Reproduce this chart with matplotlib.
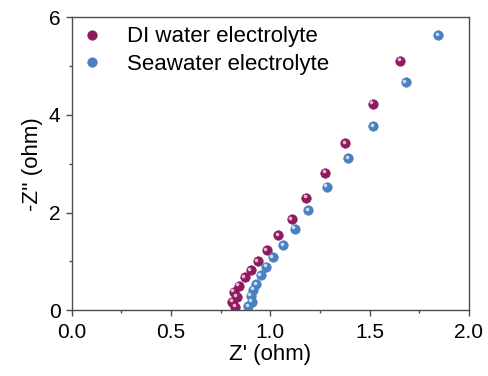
import numpy as np
import matplotlib
matplotlib.use("Agg")
from matplotlib import pyplot as plt
from matplotlib.ticker import MultipleLocator

# Nyquist data
di_x = [1.653, 1.516, 1.377, 1.276, 1.181, 1.109, 1.040, 0.983, 0.936, 0.901,
        0.872, 0.842, 0.817, 0.832, 0.809, 0.824]
di_y = [5.11, 4.23, 3.42, 2.81, 2.30, 1.86, 1.53, 1.23, 1.00, 0.82,
        0.67, 0.50, 0.375, 0.27, 0.17, 0.07]
sea_x = [1.846, 1.683, 1.518, 1.393, 1.284, 1.192, 1.124, 1.065, 1.013, 0.980,
         0.951, 0.928, 0.913, 0.901, 0.906, 0.889]
sea_y = [5.64, 4.67, 3.77, 3.11, 2.53, 2.05, 1.67, 1.33, 1.08, 0.89,
         0.71, 0.53, 0.41, 0.29, 0.17, 0.08]

plt.rcParams['font.family'] = ['Liberation Sans', 'DejaVu Sans']

fig = plt.figure(figsize=(4.88, 3.76), dpi=100)
ax = fig.add_axes([0.147, 0.1755, 0.814, 0.778])

def spheres(ax, x, y, color, light, label):
    # base ball plus a small highlight to mimic the shaded marker
    ax.plot(x, y, 'o', ms=7, color=color, mec=color, mew=0.3, label=label)
    ax.plot(x, y, 'o', ms=2.6, color=light, mec='none',
            transform=ax.transData + matplotlib.transforms.ScaledTranslation(
                -1.1 / 72, 1.1 / 72, fig.dpi_scale_trans))

spheres(ax, di_x, di_y, '#8e1a60', '#e8b8d4', 'DI water electrolyte')
spheres(ax, sea_x, sea_y, '#4a80bf', '#c8dcf2', 'Seawater electrolyte')

ax.set_xlim(0, 2.0)
ax.set_ylim(0, 6)
ax.xaxis.set_minor_locator(MultipleLocator(0.25))
ax.yaxis.set_major_locator(MultipleLocator(2))
ax.yaxis.set_minor_locator(MultipleLocator(1))
ax.set_xticks([0, 0.5, 1.0, 1.5, 2.0])
ax.set_xticklabels(['0.0', '0.5', '1.0', '1.5', '2.0'])

for s in ax.spines.values():
    s.set_color('#4d4d4d')
    s.set_linewidth(1.0)
ax.tick_params(which='major', direction='out', length=4, width=1, color='#4d4d4d',
               labelsize=15)
ax.tick_params(axis='x', which='major', pad=5)
ax.tick_params(axis='y', which='major', pad=4)
ax.tick_params(which='minor', direction='out', length=2.5, width=1, color='#4d4d4d')

ax.set_xlabel("Z' (ohm)", fontsize=16, labelpad=2)
ax.set_ylabel("-Z'' (ohm)", fontsize=16, labelpad=4)

h, l = ax.get_legend_handles_labels()
ax.legend(h, l, loc='upper left', frameon=False, fontsize=16, handletextpad=1.1,
          borderaxespad=0.0, labelspacing=0.3, handlelength=1.0,
          bbox_to_anchor=(0.0, 1.0))

fig.savefig('out.png', dpi=100)
